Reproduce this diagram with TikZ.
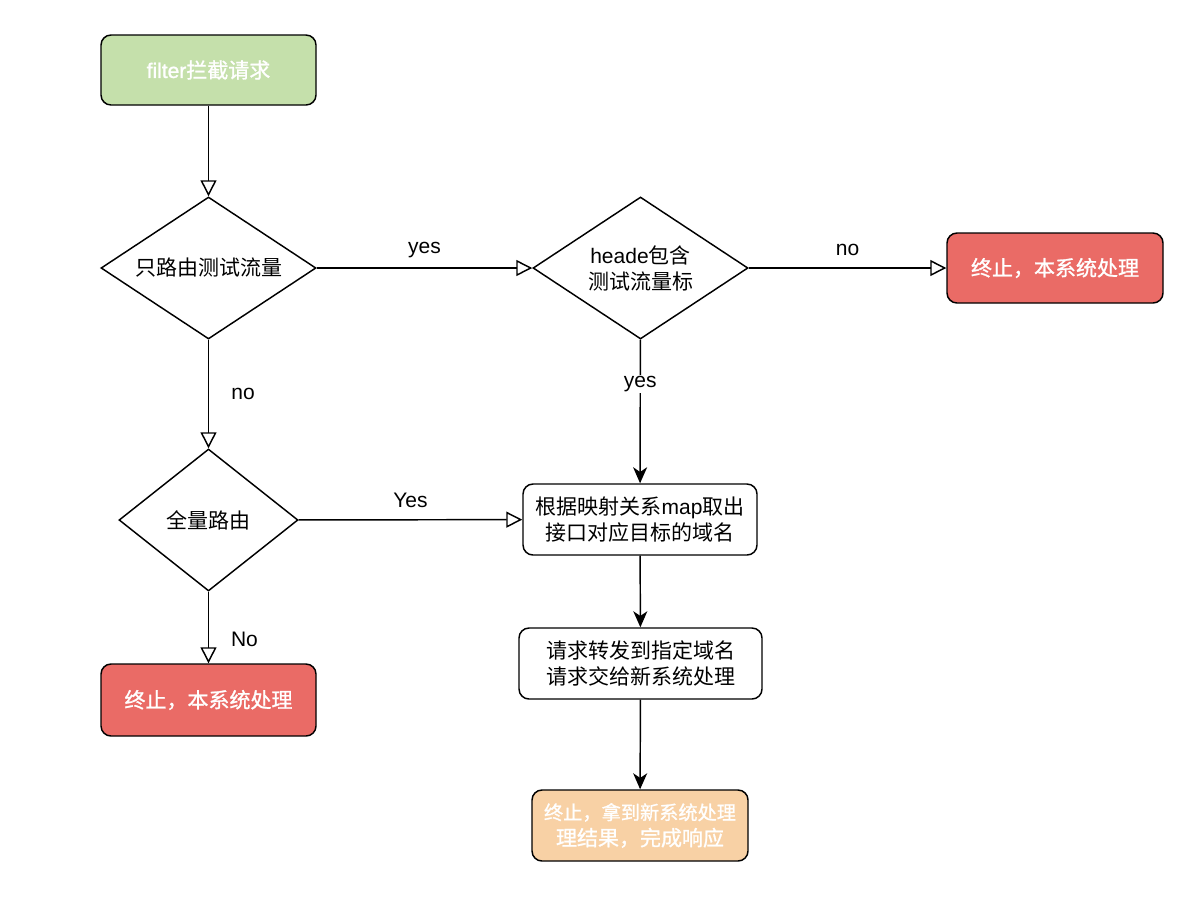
\documentclass[tikz,border=0pt]{standalone}
\usepackage{fontspec}
\setmainfont{Noto Sans CJK SC}
\newfontfamily\latin{Liberation Sans}
\newfontfamily\wfont{Noto Sans CJK SC}[FakeBold=1.2]
\newfontfamily\wlatin{Liberation Sans}[FakeBold=1.2]
\usetikzlibrary{shapes.geometric,arrows.meta}
\definecolor{gfill}{HTML}{C5E0AB}
\definecolor{rfill}{HTML}{EA6B66}
\definecolor{ofill}{HTML}{F8D1A5}
\begin{document}
\begin{tikzpicture}[x=0.75pt,y=-0.75pt,
  base/.style={line width=1.1pt, align=center, inner sep=0pt,
    font=\fontsize{15.75}{19.5}\selectfont},
  rbox/.style={base, draw, rounded corners=7.5pt},
  wbox/.style={rbox, text=white, font=\wfont\fontsize{15.75}{19.5}\selectfont},
  dia/.style={base, draw, diamond, aspect=1.5},
  openarr/.style={line width=1.1pt, -{Triangle[open,length=12pt,width=12pt,line width=1.1pt]}},
  fillarr/.style={line width=1.1pt, -{Stealth[length=12pt,width=10.5pt,inset=3.5pt]}},
  lbl/.style={font=\latin\fontsize{15.75}{19}\selectfont, inner sep=1pt}
]
\useasboundingbox (0,0) rectangle (1188,900);

\node[wbox, fill=gfill, minimum width=161.25pt, minimum height=52.5pt] (filter) at (208.5,70) {{\wlatin filter}拦截请求};
\node[dia, minimum width=161.25pt, minimum height=106.5pt] (d1) at (208.5,268) {只路由测试流量};
\node[dia, minimum width=161.25pt, minimum height=106.5pt] (d2) at (640.5,268) {{\latin heade}包含\\测试流量标};
\node[wbox, fill=rfill, minimum width=162pt, minimum height=52.5pt] (t1) at (1055,268) {终止，本系统处理};
\node[dia, minimum width=134.25pt, minimum height=106.5pt] (d3) at (208.5,520) {全量路由};
\node[rbox, fill=white, minimum width=175.5pt, minimum height=53.25pt] (b1) at (640,519.5) {根据映射关系{\latin map}取出\\接口对应目标的域名};
\node[rbox, fill=white, minimum width=182.25pt, minimum height=53.25pt] (b2) at (640.5,663.5) {请求转发到指定域名\\请求交给新系统处理};
\node[wbox, fill=rfill, minimum width=161.25pt, minimum height=54pt] (t2) at (208.5,700) {终止，本系统处理};
\node[wbox, fill=ofill, minimum width=162pt, minimum height=53.25pt] (fin) at (640,825.5) {{\fontsize{14.4}{19.5}\selectfont 终止，拿到新系统处理}\\理结果，完成响应};

\draw[openarr] (filter) -- (d1);
\draw[openarr] (d1) -- node[lbl, yshift=13.5pt] {yes} (d2);
\draw[openarr] (d2.east) -- node[lbl, yshift=13.5pt] {no} (t1);
\draw[openarr] (d1) -- node[lbl, xshift=26pt] {no} (d3);
\draw[fillarr] (d2) -- node[lbl, pos=0.31, fill=white] {yes} (b1);
\draw[openarr] (d3) -- node[lbl, yshift=14.25pt] {Yes} (b1);
\draw[openarr] (d3) -- node[lbl, pos=0.67, xshift=27pt] {No} (t2);
\draw[fillarr] (b1) -- (b2);
\draw[fillarr] (b2) -- (fin);
\end{tikzpicture}
\end{document}
